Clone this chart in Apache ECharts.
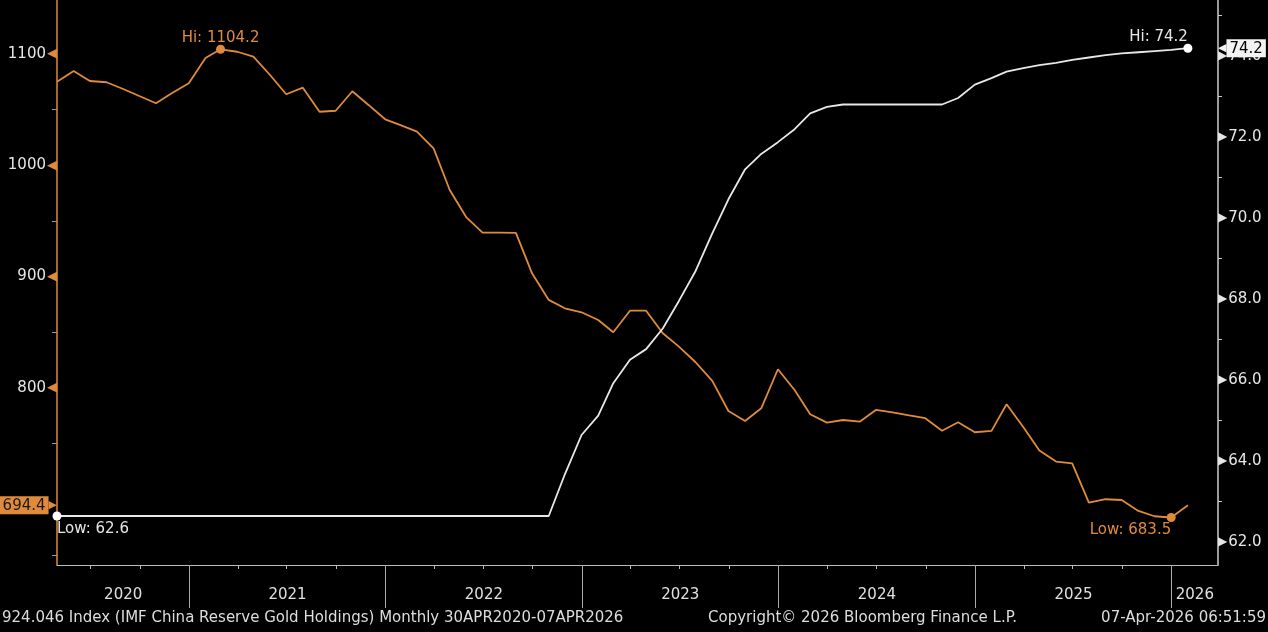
<!DOCTYPE html>
<html>
<head>
<meta charset="utf-8">
<script src="https://cdn.jsdelivr.net/npm/echarts@6/dist/echarts.min.js"></script>
<style>
html,body{margin:0;padding:0;background:#000;}
#c{width:1268px;height:632px;}
</style>
</head>
<body>
<div id="c"></div>
<script>
// ---- data ----
const months = [
  '2020-04','2020-05','2020-06','2020-07','2020-08','2020-09','2020-10','2020-11','2020-12',
  '2021-01','2021-02','2021-03','2021-04','2021-05','2021-06','2021-07','2021-08','2021-09','2021-10','2021-11','2021-12',
  '2022-01','2022-02','2022-03','2022-04','2022-05','2022-06','2022-07','2022-08','2022-09','2022-10','2022-11','2022-12',
  '2023-01','2023-02','2023-03','2023-04','2023-05','2023-06','2023-07','2023-08','2023-09','2023-10','2023-11','2023-12',
  '2024-01','2024-02','2024-03','2024-04','2024-05','2024-06','2024-07','2024-08','2024-09','2024-10','2024-11','2024-12',
  '2025-01','2025-02','2025-03','2025-04','2025-05','2025-06','2025-07','2025-08','2025-09','2025-10','2025-11','2025-12',
  '2026-01'
];
// IMF China Reserve Gold Holdings (left axis, orange)
const reserveHoldings = [
  1075.1,1084.7,1075.7,1074.6,1068.5,1062.2,1055.7,1064.9,1073.7,
  1096.4,1104.2,1102.0,1097.6,1081.1,1063.8,1069.7,1048.1,1049.0,1066.5,1054.2,1041.3,
  1035.6,1030.2,1015.2,977.8,953.1,939.4,939.4,939.2,902.9,879.0,871.5,867.9,
  861.0,849.9,869.3,869.3,849.0,837.0,823.0,806.2,779.2,770.2,781.6,816.7,
  798.1,776.2,768.7,771.1,769.6,780.1,777.9,775.2,772.7,761.5,769.1,760.1,
  761.3,785.2,764.8,743.6,733.7,732.2,696.8,699.9,699.2,689.4,684.6,683.5,
  694.4
];
// Second series (right axis, white)
const goldOunces = [
  62.64,62.64,62.64,62.64,62.64,62.64,62.64,62.64,62.64,
  62.64,62.64,62.64,62.64,62.64,62.64,62.64,62.64,62.64,62.64,62.64,62.64,
  62.64,62.64,62.64,62.64,62.64,62.64,62.64,62.64,62.64,62.64,63.67,64.64,
  65.12,65.92,66.50,66.76,67.27,67.95,68.69,69.62,70.46,71.20,71.58,71.87,
  72.19,72.58,72.74,72.80,72.80,72.80,72.80,72.80,72.80,72.80,72.96,73.29,
  73.45,73.61,73.70,73.77,73.83,73.90,73.96,74.02,74.06,74.09,74.12,74.15,
  74.19
];
const leftLabels = [800, 900, 1000, 1100];
const leftMinor = [650, 750, 850, 950, 1050];
const rightLabels = [62, 64, 66, 68, 70, 72, 74];
const rightMinor = [63, 65, 67, 69, 71, 73, 75];
const years = [2020, 2021, 2022, 2023, 2024, 2025, 2026];
const footerLeft = '924.046 Index (IMF China Reserve Gold Holdings) Monthly 30APR2020-07APR2026';
const footerMid = 'Copyright\u00A9 2026 Bloomberg Finance L.P.';
const footerRight = '07-Apr-2026 06:51:59';

// ---- helpers / layout ----
const ORANGE = '#E08B3C';
const WHITE = '#E8E8E8';
const FONT = 'DejaVu Sans';
function monthEnd(s) { const p = s.split('-').map(Number); return +new Date(p[0], p[1], 0); }
const xMin = +new Date(2020, 3, 30);
const xMax = +new Date(2026, 2, 28);
const quarterTicks = [];
const yearTicks = [];
const yearLabelPos = [];
years.forEach(function (y) {
  [3, 6, 9].forEach(function (m) {
    const t = +new Date(y, m, 1);
    if (t > xMin && t < xMax) quarterTicks.push(t);
  });
  const j = +new Date(y, 0, 1);
  if (j > xMin && j < xMax) yearTicks.push(j);
  const lo = Math.max(j, xMin), hi = Math.min(+new Date(y + 1, 0, 1), xMax);
  yearLabelPos.push((lo + hi) / 2);
});
const reserveData = months.map(function (m, i) { return [monthEnd(m), reserveHoldings[i]]; });
const ounceData = months.map(function (m, i) { return [monthEnd(m), goldOunces[i]]; });
const lastReserve = reserveHoldings[reserveHoldings.length - 1];
const lastOunce = goldOunces[goldOunces.length - 1];

const chart = echarts.init(document.getElementById('c'));
chart.setOption({
  animation: false,
  backgroundColor: '#000',
  textStyle: { fontFamily: FONT },
  title: [
    { text: footerLeft, left: 2, top: 611, padding: 0, textStyle: { color: '#DDDDDD', fontSize: 15, fontWeight: 'normal', fontFamily: FONT } },
    { text: footerMid, left: 708, top: 611, padding: 0, textStyle: { color: '#DDDDDD', fontSize: 15, fontWeight: 'normal', fontFamily: FONT } },
    { text: footerRight, right: 2, top: 611, padding: 0, textStyle: { color: '#DDDDDD', fontSize: 15, fontWeight: 'normal', fontFamily: FONT } }
  ],
  grid: { left: 57, right: 50, top: 0, bottom: 67, containLabel: false, outerBoundsMode: 'none' },
  xAxis: [
    {
      type: 'value', min: xMin, max: xMax, position: 'bottom',
      axisLine: { show: true, lineStyle: { color: '#BBBBBB', width: 1 } },
      axisTick: { show: true, customValues: quarterTicks, length: 4, lineStyle: { color: '#BBBBBB' } },
      axisLabel: {
        show: true, customValues: yearLabelPos, margin: 23, color: '#E0E0E0', fontSize: 15, fontFamily: FONT,
        formatter: function (v) { return String(new Date(v).getFullYear()); }
      },
      splitLine: { show: false }
    },
    {
      type: 'value', min: xMin, max: xMax, position: 'bottom',
      axisLine: { show: false },
      axisTick: { show: true, customValues: yearTicks, length: 43, lineStyle: { color: '#AAAAAA' } },
      axisLabel: { show: false },
      splitLine: { show: false }
    }
  ],
  yAxis: [
    {
      type: 'value', position: 'left', min: 640.8, max: 1148.5,
      axisLine: { show: true, lineStyle: { color: ORANGE, width: 1.5 } },
      axisTick: { show: true, customValues: leftMinor, length: 5, lineStyle: { color: '#999999' } },
      axisLabel: {
        show: true, customValues: leftLabels, margin: 0,
        formatter: function (v) { return '{n|' + v + '}{t|\u25C0}'; },
        rich: {
          n: { color: '#E6E6E6', fontSize: 15, fontFamily: FONT, padding: [0, 1, 0, 0] },
          t: { color: ORANGE, fontSize: 13, fontFamily: FONT }
        }
      },
      splitLine: { show: false }
    },
    {
      type: 'value', position: 'right', min: 61.43, max: 75.38,
      axisLine: { show: true, lineStyle: { color: '#CCCCCC', width: 1.5 } },
      axisTick: { show: true, customValues: rightMinor, length: 4, lineStyle: { color: '#CCCCCC' } },
      axisLabel: {
        show: true, customValues: rightLabels, margin: 0,
        formatter: function (v) { return '{t|\u25B6}{n|' + v.toFixed(1) + '}'; },
        rich: {
          n: { color: '#E6E6E6', fontSize: 15, fontFamily: FONT, padding: [0, 0, 0, 1] },
          t: { color: '#E6E6E6', fontSize: 12, fontFamily: FONT }
        }
      },
      splitLine: { show: false }
    }
  ],
  series: [
    {
      name: 'IMF China Reserve Gold Holdings', type: 'line', xAxisIndex: 0, yAxisIndex: 0,
      data: reserveData, showSymbol: false, z: 3,
      lineStyle: { color: ORANGE, width: 1.8 }, itemStyle: { color: ORANGE },
      markPoint: {
        symbol: 'circle', symbolSize: 9, itemStyle: { color: ORANGE },
        label: { color: ORANGE, fontSize: 15, fontFamily: FONT },
        data: [
          { type: 'max', label: { position: 'top', distance: -1, formatter: function (p) { return 'Hi: ' + p.value.toFixed(1); } } },
          { type: 'min', label: { position: 'bottom', distance: 1, align: 'right', formatter: function (p) { return 'Low: ' + p.value.toFixed(1); } } }
        ]
      },
      markLine: {
        silent: true, symbol: 'none', lineStyle: { color: 'rgba(0,0,0,0)', width: 0.01 },
        label: {
          show: true, position: 'start', distance: 0,
          formatter: function () { return '{b|' + lastReserve.toFixed(1) + '}{t|\u25B6}'; },
          rich: {
            b: { backgroundColor: ORANGE, color: '#1A1A1A', fontSize: 15, fontFamily: FONT, padding: [2, 3, 1, 3] },
            t: { color: ORANGE, fontSize: 11, fontFamily: FONT }
          }
        },
        data: [{ yAxis: lastReserve }]
      }
    },
    {
      name: 'Gold Holdings', type: 'line', xAxisIndex: 0, yAxisIndex: 1,
      data: ounceData, showSymbol: false, z: 4,
      lineStyle: { color: WHITE, width: 1.8 }, itemStyle: { color: WHITE },
      markPoint: {
        symbol: 'circle', symbolSize: 9, itemStyle: { color: '#FFFFFF' },
        label: { color: '#E6E6E6', fontSize: 15, fontFamily: FONT },
        data: [
          { type: 'max', label: { position: 'top', distance: -1, align: 'right', formatter: function (p) { return 'Hi: ' + p.value.toFixed(1); } } },
          { type: 'min', label: { position: 'bottom', distance: 1, align: 'left', formatter: function (p) { return 'Low: ' + p.value.toFixed(1); } } }
        ]
      },
      markLine: {
        silent: true, symbol: 'none', lineStyle: { color: 'rgba(0,0,0,0)', width: 0.01 },
        label: {
          show: true, position: 'end', distance: 0,
          formatter: function () { return '{t|\u25C0}{b|' + lastOunce.toFixed(1) + '}'; },
          rich: {
            b: { backgroundColor: '#F2F2F2', color: '#000000', fontSize: 15, fontFamily: FONT, padding: [2, 3, 1, 3] },
            t: { color: '#F2F2F2', fontSize: 11, fontFamily: FONT }
          }
        },
        data: [{ yAxis: lastOunce }]
      }
    }
  ]
});
</script>
</body>
</html>
